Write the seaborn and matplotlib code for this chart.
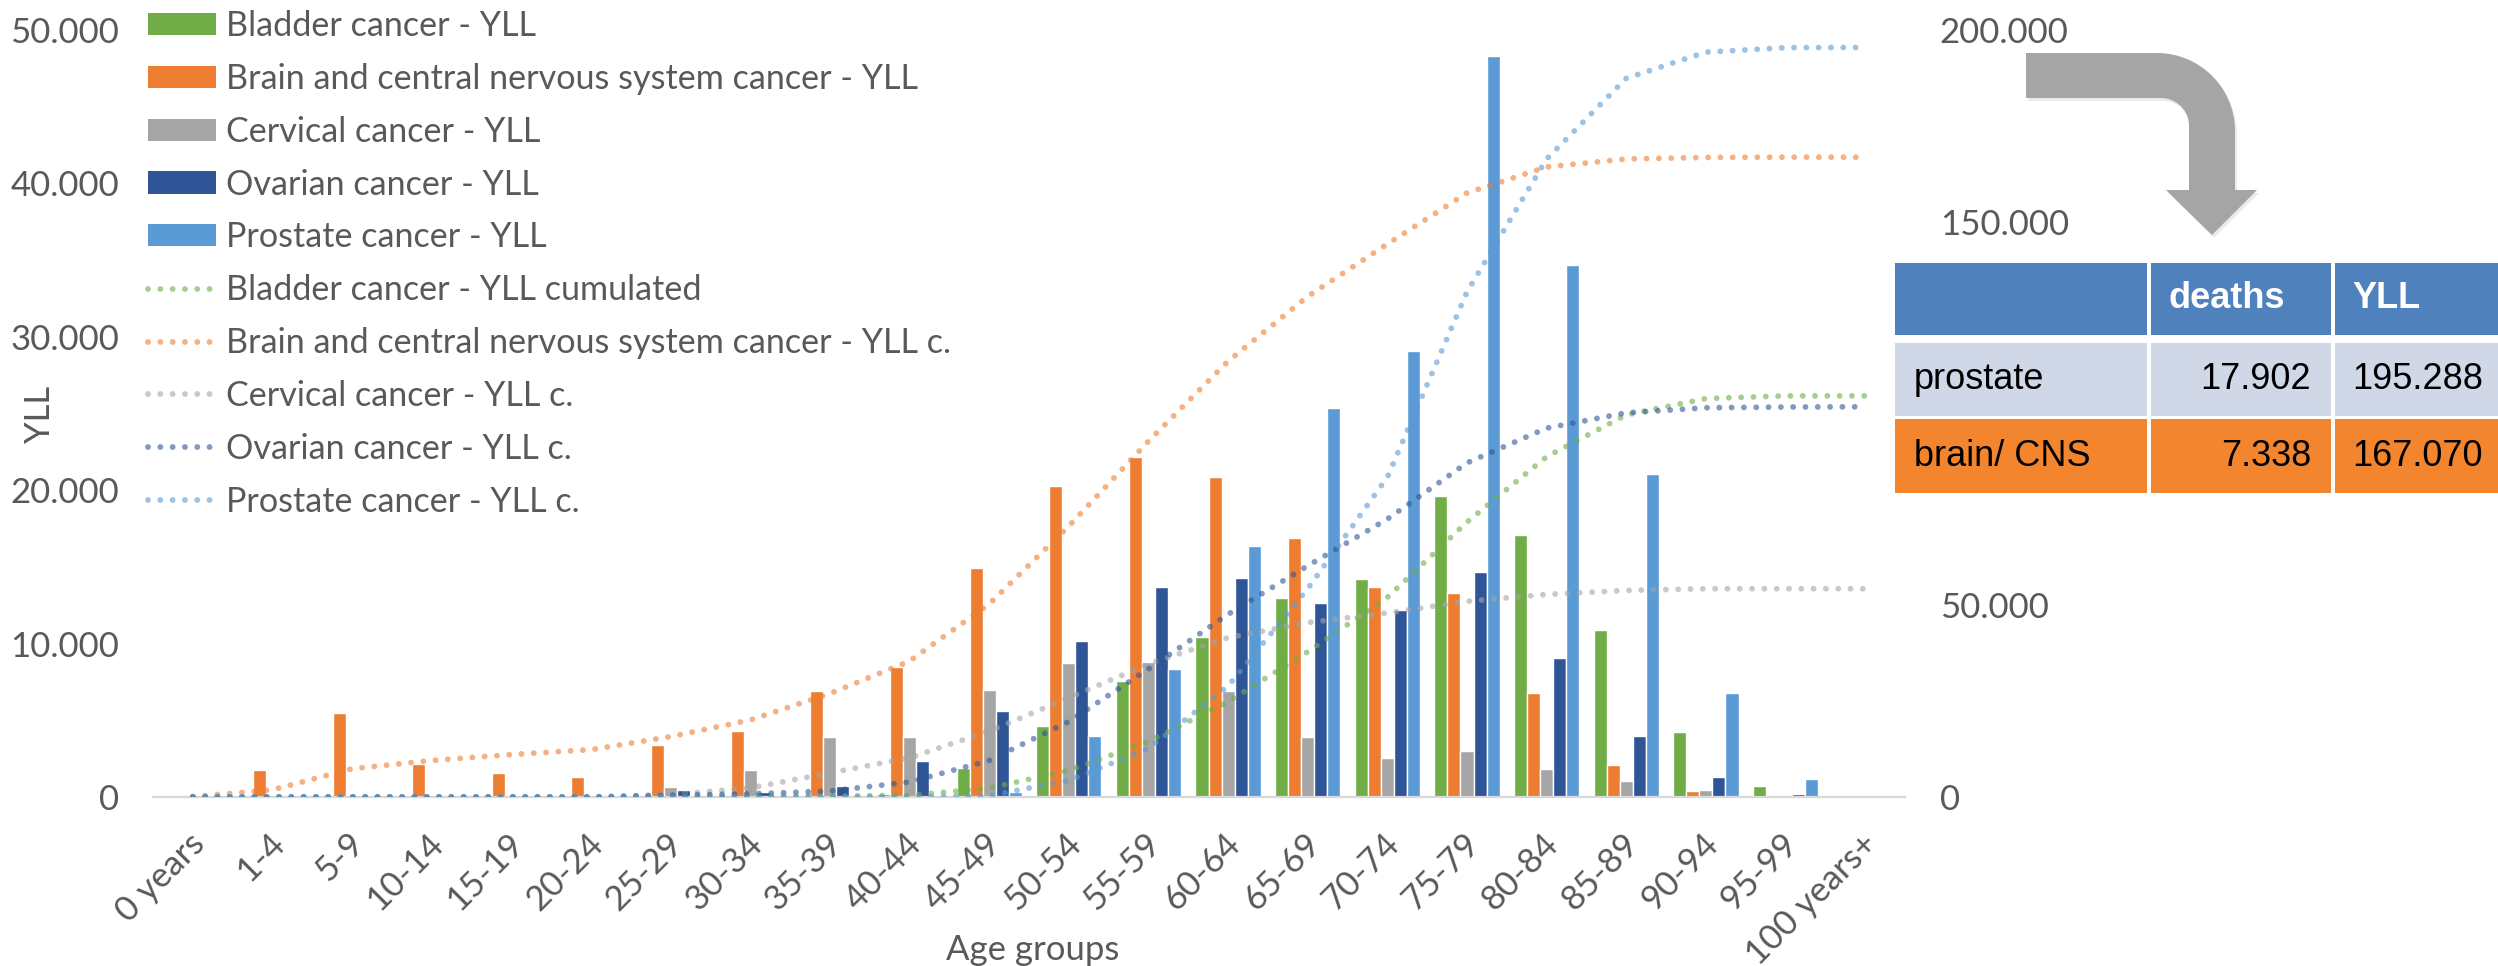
import numpy as np
import pandas as pd
import matplotlib
matplotlib.use("Agg")
import matplotlib.pyplot as plt
import matplotlib.transforms as mtransforms
import seaborn as sns
from matplotlib.patches import Patch, Rectangle, PathPatch
from matplotlib.path import Path
from matplotlib.ticker import FuncFormatter

# age groups on the x axis
age_groups = ["0 years", "1-4", "5-9", "10-14", "15-19", "20-24", "25-29", "30-34",
              "35-39", "40-44", "45-49", "50-54", "55-59", "60-64", "65-69", "70-74",
              "75-79", "80-84", "85-89", "90-94", "95-99", "100 years+"]

# YLL per age group (bars, left axis)
bladder = [0, 0, 0, 0, 0, 0, 30, 130, 100, 170, 1880, 4600, 7550, 10400, 13000,
           14200, 19630, 17050, 10900, 4260, 700, 0]
brain = [100, 1770, 5500, 2150, 1550, 1280, 3400, 4330, 6900, 8450, 14900, 20300,
         22150, 20850, 16900, 13660, 13320, 6780, 2080, 400, 70, 0]
cervical = [0, 0, 0, 0, 0, 0, 620, 1730, 3930, 3930, 6950, 8720, 8790, 6880, 3930,
            2520, 3020, 1810, 1040, 440, 0, 0]
ovarian = [0, 0, 0, 0, 0, 0, 480, 340, 740, 2350, 5600, 10170, 13700, 14260, 12650,
           12180, 14660, 9060, 3990, 1310, 200, 70]
prostate = [0, 0, 0, 0, 0, 0, 0, 0, 0, 0, 340, 3960, 8320, 16340, 25340, 29090,
            48320, 34660, 21040, 6810, 1170, 70]

# cumulated YLL (dotted lines, right axis)
bladder_cum = [0, 0, 0, 0, 0, 0, 30, 160, 260, 430, 2310, 6910, 14460, 24860, 37860,
               52060, 71690, 88740, 99640, 103900, 104600, 104600]
brain_cum = [100, 1870, 7370, 9520, 11070, 12350, 15750, 20080, 26980, 35430, 50330,
             70630, 92780, 113630, 130530, 144190, 157510, 164290, 166370, 166770,
             166840, 166840]
cervical_cum = [0, 0, 0, 0, 0, 0, 620, 2350, 6280, 10210, 17160, 25880, 34670, 41550,
                45480, 48000, 51020, 52830, 53870, 54310, 54310, 54310]
ovarian_cum = [0, 0, 0, 0, 0, 0, 480, 820, 1560, 3910, 9510, 19680, 33380, 47640,
               60290, 72470, 87130, 96190, 100180, 101490, 101690, 101760]
prostate_cum = [0, 0, 0, 0, 0, 0, 0, 0, 0, 0, 340, 4300, 12620, 28960, 54300, 83390,
                131710, 166370, 187410, 194220, 195390, 195460]

bar_names = ["Bladder cancer - YLL", "Brain and central nervous system cancer - YLL",
             "Cervical cancer - YLL", "Ovarian cancer - YLL", "Prostate cancer - YLL"]
cum_names = ["Bladder cancer - YLL cumulated", "Brain and central nervous system cancer - YLL c.",
             "Cervical cancer - YLL c.", "Ovarian cancer - YLL c.", "Prostate cancer - YLL c."]
colors = ["#70AD47", "#ED7D31", "#A5A5A5", "#2F5597", "#5B9BD5"]

# small summary table
table_rows = ["prostate", "brain/ CNS"]
table_deaths = [17902, 7338]
table_yll = [195288, 167070]
table_colors = ["#D0D8E8", "#F2852D"]

sns.set_theme(style="white")
plt.rcParams["font.family"] = ["Lato", "DejaVu Sans"]

W, H = 2498, 966
fig = plt.figure(figsize=(W / 100, H / 100), dpi=100)
ax = fig.add_axes([153 / W, (H - 797) / H, (1905 - 153) / W, (797 - 30) / H])

def dotfmt(v, p):
    return f"{int(round(v)):,}".replace(",", ".")

df = pd.DataFrame({"age": age_groups})
for name, vals in zip(bar_names, [bladder, brain, cervical, ovarian, prostate]):
    df[name] = vals
long = df.melt(id_vars="age", var_name="series", value_name="yll")

sns.barplot(data=long, x="age", y="yll", hue="series", palette=colors, width=0.82,
            saturation=1, errorbar=None, legend=False, ax=ax)

ax2 = ax.twinx()
pos = np.arange(len(age_groups))
for cum, col in zip([bladder_cum, brain_cum, cervical_cum, ovarian_cum, prostate_cum], colors):
    sns.lineplot(x=pos, y=cum, ax=ax2, color=col, alpha=0.6, lw=4.2,
                 linestyle=(0, (0.01, 2.1)), dash_capstyle="round", legend=False)

ax.set_xlim(-0.5, len(age_groups) - 0.5)
ax.set_ylim(0, 50000)
ax2.set_ylim(0, 200000)
ax.set_yticks(range(0, 50001, 10000))
ax2.set_yticks(range(0, 200001, 50000))
ax.yaxis.set_major_formatter(FuncFormatter(dotfmt))
ax2.yaxis.set_major_formatter(FuncFormatter(dotfmt))
ax.set_xlabel("")
ax.set_ylabel("")
ax2.set_xlabel("")
ax2.set_ylabel("")

txt = "#595959"
ax.tick_params(axis="y", length=0, pad=24.5, labelsize=25, labelcolor=txt)
ax2.tick_params(axis="y", length=0, pad=25, labelsize=25, labelcolor=txt)
ax.set_xticks(pos)
ax.set_xticklabels(age_groups, rotation=45, ha="right", va="center", rotation_mode="anchor")
ax.tick_params(axis="x", length=0, pad=30, labelsize=25, labelcolor=txt)
shift = mtransforms.ScaledTranslation(7 / 100, 0, fig.dpi_scale_trans)
for lab in ax.get_xticklabels():
    lab.set_transform(lab.get_transform() + shift)

for a in (ax, ax2):
    for s in ["top", "left", "right", "bottom"]:
        a.spines[s].set_visible(False)
    a.grid(False)
ax.spines["bottom"].set_visible(True)
ax.spines["bottom"].set_color("#D9D9D9")
ax.spines["bottom"].set_linewidth(1.6)

fig.text(40 / W, 1 - 414 / H, "YLL", rotation=90, ha="center", va="center",
         fontsize=25, color=txt)
fig.text(1033 / W, 1 - 950 / H, "Age groups", ha="center", va="center",
         fontsize=25, color=txt)

handles = [Patch(facecolor=c, edgecolor="none") for c in colors] + list(ax2.lines)
leg = fig.legend(handles, bar_names + cum_names, loc="upper left",
                 bbox_to_anchor=(148 / W, 1 - 10 / H), bbox_transform=fig.transFigure,
                 frameon=False, fontsize=24.6, handlelength=2.0, handleheight=0.62,
                 handletextpad=0.27, labelspacing=0.61, borderpad=0, borderaxespad=0)
for t in leg.get_texts():
    t.set_color(txt)


def px(x, y):
    return x / W, 1 - y / H


# bent arrow (decoration)
pts = [(2026, 53), (2157, 53)]
for a in np.linspace(90, 0, 20):
    pts.append((2157 + 78 * np.cos(np.radians(a)), 131 - 78 * np.sin(np.radians(a))))
pts += [(2235, 190), (2257, 190), (2212, 235), (2166, 190), (2189, 190), (2189, 126)]
for a in np.linspace(0, 90, 20):
    pts.append((2161 + 28 * np.cos(np.radians(a)), 126 - 28 * np.sin(np.radians(a))))
pts += [(2026, 98), (2026, 53)]
arrow = Path([px(*p) for p in pts])
shadow = Path([px(p[0] + 2, p[1] + 3) for p in pts])
fig.add_artist(PathPatch(shadow, transform=fig.transFigure, facecolor="#000000",
                         alpha=0.08, edgecolor="none", zorder=4))
fig.add_artist(PathPatch(arrow, transform=fig.transFigure, facecolor="#A5A5A5",
                         edgecolor="none", zorder=5))

# table, on a white backing so the hidden 100.000 tick stays covered
fig.add_artist(Rectangle(px(1891, 497), (2520 - 1891) / W, (497 - 259) / H,
                         transform=fig.transFigure, facecolor="white",
                         edgecolor="none", zorder=5))
cols = [(1895, 2147), (2151, 2331), (2335, 2520)]
rows = [(263, 335), (343, 416), (419, 493)]
row_fill = ["#4F81BD"] + table_colors
for (y0, y1), fc in zip(rows, row_fill):
    for x0, x1 in cols:
        fig.add_artist(Rectangle(px(x0, y1), (x1 - x0) / W, (y1 - y0) / H,
                                 transform=fig.transFigure, facecolor=fc,
                                 edgecolor="none", zorder=5))
tf = "Liberation Sans"
yc = [(y0 + y1) / 2 for y0, y1 in rows]
fig.text(*px(2168, yc[0]), "deaths", ha="left", va="center", fontsize=26,
         fontweight="bold", color="white", family=tf, zorder=6)
fig.text(*px(2352, yc[0]), "YLL", ha="left", va="center", fontsize=26,
         fontweight="bold", color="white", family=tf, zorder=6)
for i, (name, d, y) in enumerate(zip(table_rows, table_deaths, table_yll)):
    fig.text(*px(1914, yc[i + 1]), name, ha="left", va="center", fontsize=26,
             color="black", family=tf, zorder=6)
    fig.text(*px(2311, yc[i + 1]), dotfmt(d, None), ha="right", va="center",
             fontsize=26, color="black", family=tf, zorder=6)
    fig.text(*px(2352, yc[i + 1]), dotfmt(y, None), ha="left", va="center",
             fontsize=26, color="black", family=tf, zorder=6)

fig.savefig("out.png", dpi=100, facecolor="white")
